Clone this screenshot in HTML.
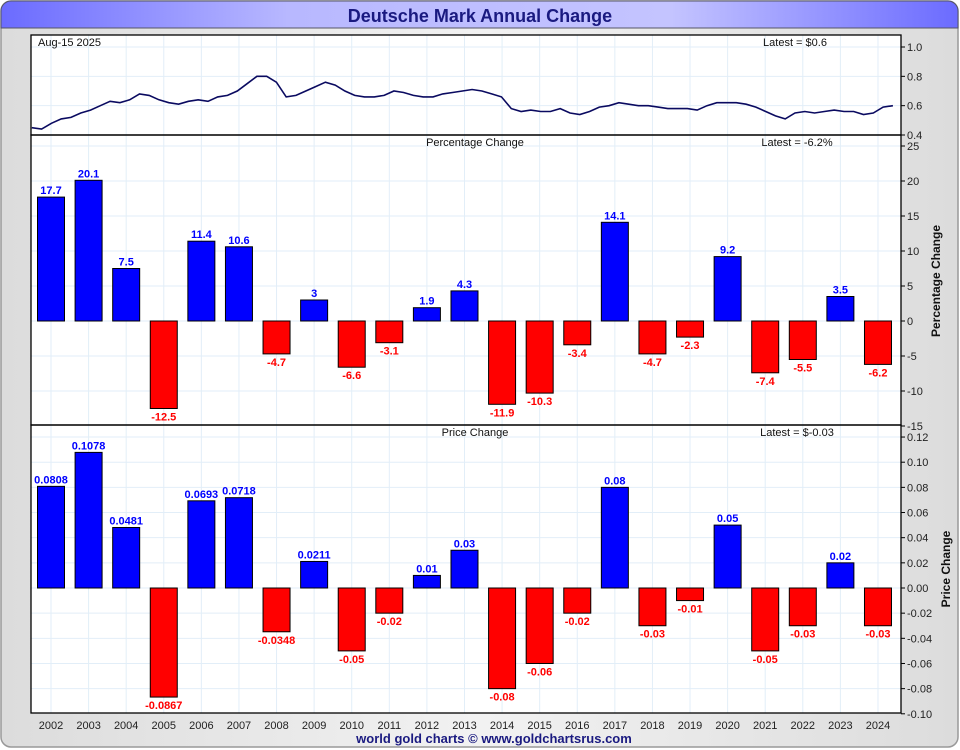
<!DOCTYPE html>
<html><head><meta charset="utf-8"><style>
body{margin:0;background:#fff;font-family:"Liberation Sans",sans-serif;}
svg{display:block}
</style></head><body>
<svg id="c" width="960" height="750" xmlns="http://www.w3.org/2000/svg">
<defs>
<linearGradient id="tg" x1="0" x2="1" y1="0" y2="0">
<stop offset="0" stop-color="#6b6bff"/><stop offset="0.3" stop-color="#b8b8ff"/><stop offset="0.7" stop-color="#c4c4ff"/><stop offset="1" stop-color="#6b6bff"/></linearGradient>
<linearGradient id="bg" x1="0" x2="1" y1="0" y2="0">
<stop offset="0" stop-color="#dcdcdc"/><stop offset="0.5" stop-color="#f2f2f2"/><stop offset="1" stop-color="#dcdcdc"/></linearGradient>
</defs>
<rect x="1" y="1" width="957" height="746" rx="10" fill="url(#bg)" stroke="#999" stroke-width="1.5"/>
<path d="M1,28 V11 A10,10 0 0 1 11,1 H948 A10,10 0 0 1 958,11 V28 Z" fill="url(#tg)" stroke="#556"/>
<text x="480" y="22" text-anchor="middle" font-size="18" font-weight="bold" fill="#1a1a80">Deutsche Mark Annual Change</text>
<g id="plot"></g>
<text x="494" y="743" text-anchor="middle" font-size="13" font-weight="bold" fill="#1a1a80">world gold charts © www.goldchartsrus.com</text>
</svg>
<script>
const years=[2002,2003,2004,2005,2006,2007,2008,2009,2010,2011,2012,2013,2014,2015,2016,2017,2018,2019,2020,2021,2022,2023,2024];
const pctValues=[17.7,20.1,7.5,-12.5,11.4,10.6,-4.7,3,-6.6,-3.1,1.9,4.3,-11.9,-10.3,-3.4,14.1,-4.7,-2.3,9.2,-7.4,-5.5,3.5,-6.2];
const priceValues=[0.0808,0.1078,0.0481,-0.0867,0.0693,0.0718,-0.0348,0.0211,-0.05,-0.02,0.01,0.03,-0.08,-0.06,-0.02,0.08,-0.03,-0.01,0.05,-0.05,-0.03,0.02,-0.03];
const priceLabels=["0.0808","0.1078","0.0481","-0.0867","0.0693","0.0718","-0.0348","0.0211","-0.05","-0.02","0.01","0.03","-0.08","-0.06","-0.02","0.08","-0.03","-0.01","0.05","-0.05","-0.03","0.02","-0.03"];
const lineValues=[0.45,0.44,0.48,0.51,0.52,0.55,0.57,0.60,0.63,0.62,0.64,0.68,0.67,0.64,0.62,0.61,0.63,0.64,0.63,0.66,0.67,0.70,0.75,0.80,0.80,0.76,0.66,0.67,0.70,0.73,0.76,0.74,0.70,0.67,0.66,0.66,0.67,0.70,0.69,0.67,0.66,0.66,0.68,0.69,0.70,0.71,0.70,0.68,0.66,0.58,0.56,0.57,0.56,0.56,0.58,0.55,0.54,0.56,0.59,0.60,0.62,0.61,0.60,0.60,0.59,0.58,0.58,0.58,0.57,0.60,0.62,0.62,0.62,0.61,0.59,0.56,0.53,0.51,0.55,0.56,0.55,0.56,0.57,0.56,0.56,0.54,0.55,0.59,0.60];
const lineTicks=[0.4,0.6,0.8,1.0];
const pctTicks=[-15,-10,-5,0,5,10,15,20,25];
const priceTicks=[-0.10,-0.08,-0.06,-0.04,-0.02,0.00,0.02,0.04,0.06,0.08,0.10,0.12];

const NS="http://www.w3.org/2000/svg";
const g=document.getElementById('plot');
function el(t,a,p){const e=document.createElementNS(NS,t);for(const k in a)e.setAttribute(k,a[k]);(p||g).appendChild(e);return e;}
const L=31,R=901;
const step=37.59;
const xYear=y=>51+(y-2002)*step;
const xTime=t=>51+(t-2002.5)*step;
const yTop=v=>135-(v-0.4)/0.6*88;
const yPct=v=>321-v*7;
const yPrice=v=>588-v*1258;

[[35,135],[135,425],[425,713]].forEach((p,i)=>{
  const r=el('rect',{x:L,y:p[0],width:R-L,height:p[1]-p[0],fill:'#fff'});
  
  
});
years.forEach(y=>{
  const x=xYear(y);
  [[35,135],[135,425],[425,713]].forEach(p=>{
    const l=el('line',{x1:x,x2:x,y1:p[0],y2:p[1],stroke:'#e2eef8','stroke-width':1});
    
    
  });
  const t=el('text',{x:x,y:729,'text-anchor':'middle','font-size':11,fill:'#222'});
  t.textContent=y;
  
  
});
function hgrid(ticks,f,fmt,y0,y1,name){
  ticks.forEach(v=>{
    const y=f(v);
    if(y>y0+1&&y<y1-1){const l=el('line',{x1:L,x2:R,y1:y,y2:y,stroke:'#e2eef8'});
      
      }
    const tk=el('line',{x1:R,x2:R+4,y1:y,y2:y,stroke:'#000'});
    
    
    const t=el('text',{x:R+6,y:y+4,'font-size':11,fill:'#222'});
    t.textContent=fmt(v);
    
    
  });
}
hgrid(lineTicks,yTop,v=>v.toFixed(1),35,135,'price-tick-label');
hgrid(pctTicks,yPct,v=>String(v),135,425,'percentage-tick-label');
hgrid(priceTicks,yPrice,v=>v.toFixed(2),425,713,'price-change-tick-label');

let d='';
lineValues.forEach((v,i)=>{const t=2001.99+i*0.2603;d+=(i?'L':'M')+xTime(t).toFixed(1)+','+yTop(v).toFixed(1);});
const pl=el('path',{d:d,fill:'none',stroke:'#0a0a60','stroke-width':1.6});



function bars(vals,labels,f,name){
  vals.forEach((v,i)=>{
    const x=xYear(years[i]);const y0=f(0),y1=f(v);
    const pos=v>=0;
    const r=el('rect',{x:x-13.5,y:Math.min(y0,y1),width:27,height:Math.abs(y1-y0),fill:pos?'#0000ff':'#ff0000',stroke:'#000','stroke-width':1});
    
    
    const t=el('text',{x:x,y:pos?y1-3:y1+12,'text-anchor':'middle','font-size':11,'font-weight':'bold',fill:pos?'#0000ff':'#ff0000'});
    t.textContent=labels[i];
    
    
  });
}
bars(pctValues,pctValues.map(String),yPct,'percentage');
bars(priceValues,priceLabels,yPrice,'price-change');

[[35,135],[135,425],[425,713]].forEach(p=>{
  const r=el('rect',{x:L,y:p[0],width:R-L,height:p[1]-p[0],fill:'none',stroke:'#000','stroke-width':1.3});
  
  
});
function txt(x,y,s,name,anchor,extra){
  const t=el('text',Object.assign({x:x,y:y,'font-size':11,fill:'#111','text-anchor':anchor||'start'},extra||{}));
  t.textContent=s;
  
  
  return t;
}
txt(38,46,'Aug-15  2025','date-label');
txt(795,46,'Latest = $0.6','latest-price-label','middle');
txt(475,146,'Percentage Change','percentage-panel-title','middle');
txt(797,146,'Latest = -6.2%','latest-percentage-label','middle');
txt(475,436,'Price Change','price-change-panel-title','middle');
txt(797,436,'Latest = $-0.03','latest-price-change-label','middle');
txt(940,281,'Percentage Change','percentage-axis-title','middle',{transform:'rotate(-90 940 281)','font-weight':'bold','font-size':12});
txt(950,569,'Price Change','price-change-axis-title','middle',{transform:'rotate(-90 950 569)','font-weight':'bold','font-size':12});
</script>
</body></html>
